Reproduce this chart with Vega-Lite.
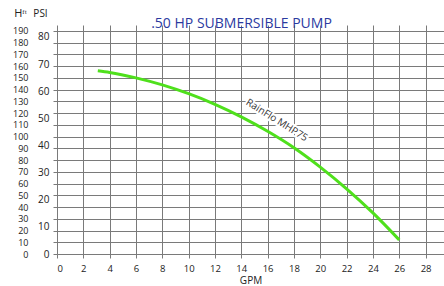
{
  "$schema": "https://vega.github.io/schema/vega-lite/v6.json",
  "width": 387,
  "height": 229,
  "autosize": "none",
  "padding": {"left": 57, "top": 25, "right": 0, "bottom": 32},
  "background": "white",
  "title": {
    "text": ".50 HP SUBMERSIBLE PUMP",
    "color": "#2b3a9f",
    "font": "Open Sans",
    "fontSize": 14,
    "fontWeight": "normal",
    "anchor": "middle",
    "dx": -9,
    "dy": 24,
    "offset": 0
  },
  "config": {
    "view": {"stroke": null},
    "axis": {
      "labelFont": "Open Sans",
      "labelFontSize": 10,
      "labelColor": "#222222",
      "labelOverlap": false,
      "titleFont": "Open Sans",
      "titleFontSize": 10,
      "titleFontWeight": "normal",
      "titleColor": "#222222",
      "gridColor": "#7a7a7a",
      "gridOpacity": 1,
      "tickColor": "#7a7a7a",
      "domain": false
    }
  },
  "encoding": {
    "x": {
      "field": "gpm",
      "type": "quantitative",
      "scale": {"domain": [0, 29.4], "nice": false, "zero": false},
      "axis": {
        "values": [0, 2, 4, 6, 8, 10, 12, 14, 16, 18, 20, 22, 24, 26, 28],
        "labelOverlap": false,
        "labelSeparation": 0,
        "grid": true,
        "tickSize": 4,
        "labelPadding": 5,
        "labelFontSize": 9.5,
        "title": "GPM",
        "titlePadding": 3
      }
    }
  },
  "layer": [
    {
      "data": {
        "values": [
          {"gpm": 3.1, "ft": 156},
          {"gpm": 4.0, "ft": 154.6},
          {"gpm": 6.0, "ft": 150},
          {"gpm": 8.0, "ft": 144},
          {"gpm": 10.0, "ft": 136.5},
          {"gpm": 12.0, "ft": 127.5},
          {"gpm": 14.0, "ft": 116.8},
          {"gpm": 16.0, "ft": 104.5},
          {"gpm": 18.0, "ft": 90.5},
          {"gpm": 20.0, "ft": 74},
          {"gpm": 22.0, "ft": 55.5},
          {"gpm": 24.0, "ft": 35},
          {"gpm": 26.0, "ft": 12}
        ]
      },
      "mark": {"type": "line", "color": "#4fe01c", "strokeWidth": 3, "interpolate": "monotone"},
      "encoding": {
        "y": {
          "field": "ft",
          "type": "quantitative",
          "scale": {"domain": [0, 195], "nice": false},
          "axis": {
            "orient": "left",
            "values": [0, 10, 20, 30, 40, 50, 60, 70, 80, 90, 100, 110, 120, 130, 140, 150, 160, 170, 180, 190],
            "labelOverlap": false,
            "grid": true,
            "tickSize": 4,
            "labelPadding": 25,
            "labelFontSize": 9,
            "title": "Hᶠᵗ",
            "titleAngle": 0,
            "titleAlign": "center",
            "titleBaseline": "middle",
            "titleX": -37,
            "titleY": -12,
            "titleFontSize": 11
          }
        }
      }
    },
    {
      "data": {"values": [{"gpm": 16.7, "psi": 49.3, "label": "RainFlo MHP75"}]},
      "encoding": {
        "y": {
          "field": "psi",
          "type": "quantitative",
          "scale": {"domain": [0, 84.4], "nice": false},
          "axis": {
            "orient": "left",
            "values": [0, 10, 20, 30, 40, 50, 60, 70, 80],
            "labelOverlap": false,
            "grid": false,
            "ticks": false,
            "labelPadding": 8,
            "title": "PSI",
            "titleAngle": 0,
            "titleAlign": "center",
            "titleBaseline": "middle",
            "titleX": -17,
            "titleY": -12,
            "titleFontSize": 10
          }
        },
        "text": {"field": "label"}
      },
      "layer": [
        {"mark": {"type": "text", "angle": 32, "font": "Open Sans", "fontSize": 10, "color": "white", "stroke": "white", "strokeWidth": 4}},
        {"mark": {"type": "text", "angle": 32, "font": "Open Sans", "fontSize": 10, "color": "#333333"}}
      ]
    }
  ],
  "resolve": {"scale": {"y": "independent"}, "axis": {"y": "independent"}}
}
